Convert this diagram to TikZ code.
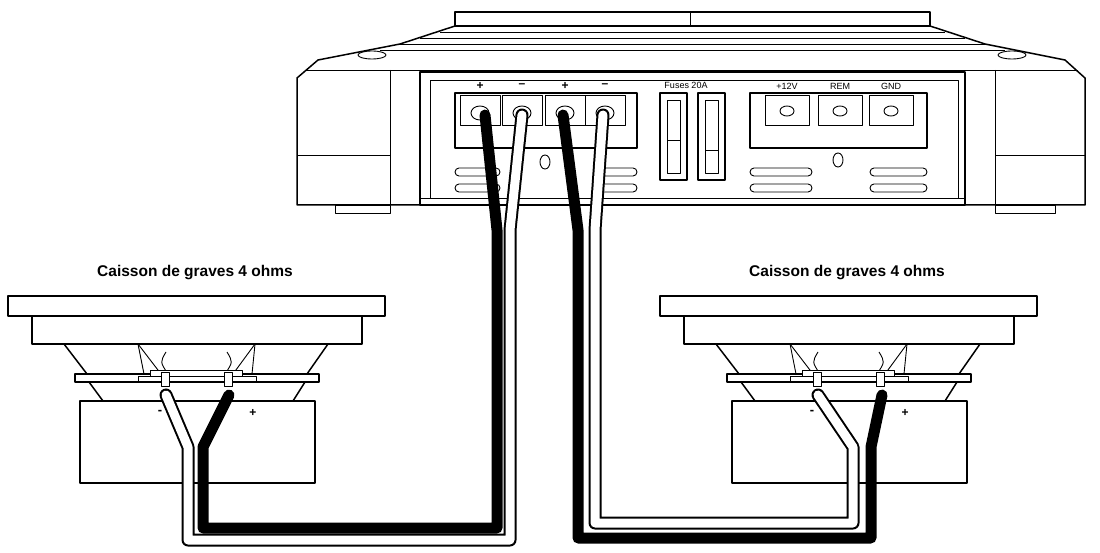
\documentclass[tikz,border=0pt]{standalone}
\usepackage{fontspec}
\setmainfont{Liberation Sans}
\begin{document}
\begin{tikzpicture}[x=1pt,y=-1pt,line join=round,
  ln/.style={draw=black,line width=1.5pt},
  thin/.style={draw=black,line width=0.9pt},
  ttl/.style={font=\fontsize{15.5}{18}\selectfont\bfseries},
  small/.style={font=\fontsize{9}{10}\selectfont},
  blk/.style={line width=11pt,draw=black,line cap=round},
  whO/.style={line width=13pt,draw=black,line cap=round},
  whI/.style={line width=9pt,draw=white,line cap=round}]
\useasboundingbox (0,0) rectangle (1100,553);
% ---------- amplifier ----------
\draw[ln,fill=white] (297,205) -- (297,78) -- (318,60) -- (400,44) -- (455,26) -- (930,26) -- (985,44) -- (1065,60) -- (1085,78) -- (1085,205) -- cycle;
\draw[ln] (455,12) rectangle (930,26);
\draw[thin] (690,12) -- (690,26);
\foreach \y/\a/\b in {32/440/945,38/420/965,44/400/985,50/380/1005}
  \draw[thin] (\a,\y) -- (\b,\y);
\draw[thin] (305,70) -- (1078,70);
\draw[thin] (390,70) -- (390,205);
\draw[thin] (995,70) -- (995,205);
\draw[thin] (297,155) -- (390,155);
\draw[thin] (995,155) -- (1085,155);
\draw[thin] (372,55) ellipse (14 and 4);
\draw[thin] (1012,55) ellipse (14 and 4);
\draw[ln] (420,72) rectangle (965,205);
\draw[thin] (430,80) rectangle (958,198);
\draw[thin] (420,198) -- (965,198);
\draw[thin] (335,205) rectangle (390,213);
\draw[thin] (995,205) rectangle (1055,213);
% terminals
\draw[ln] (455,93) rectangle (637,148);
\foreach \x/\s in {480/+,522/–,565/+,605/–}{
  \draw[thin] (\x-20,95) rectangle (\x+20,125);
  \draw[thin] (\x,113) ellipse (9 and 7);
  \node[font=\fontsize{12}{12}\selectfont\bfseries] at (\x,86) {\s};}
\node[small] (fus) at (686,85) {Fuses 20A};
\draw[ln] (660,93) rectangle (687,180);
\draw[ln] (698,93) rectangle (725,180);
\draw[thin] (667,100) rectangle (680,173);
\draw[thin] (705,100) rectangle (718,173);
\draw[thin] (667,140) -- (680,140);
\draw[thin] (705,150) -- (718,150);
\draw[ln] (750,93) rectangle (927,148);
\foreach \x/\l in {787/+12V,840/REM,891/GND}{
  \draw[thin] (\x-22,95) rectangle (\x+22,125);
  \draw[thin] (\x,111) ellipse (7 and 5);
  \node[small] at (\x,86) {\l};}
\draw[thin] (545,162) ellipse (5 and 7);
\draw[thin] (838,160) ellipse (5 and 7);
\foreach \a/\b in {455/500,600/637,750/812,870/927}{
  \draw[thin,rounded corners=4pt] (\a,168) rectangle (\b,176);
  \draw[thin,rounded corners=4pt] (\a,184) rectangle (\b,192);}
% ---------- speakers ----------
\foreach \dx in {0,652}{
\begin{scope}[xshift=\dx]
  \draw[ln] (8,296) rectangle (385,316);
  \draw[ln] (32,316) rectangle (362,344);
  \draw[ln] (64,344) -- (87,374);
  \draw[ln] (328,344) -- (307,374);
  \draw[ln] (89,382) -- (103,401);
  \draw[ln] (305,382) -- (293,401);
  \draw[thin] (138,344) -- (161,374);
  \draw[thin] (138,344) -- (144,374);
  \draw[thin] (255,344) -- (233,374);
  \draw[thin] (255,344) -- (252,374);
  \draw[thin] (168,374) .. controls (160,362) .. (166,352);
  \draw[thin] (225,374) .. controls (233,362) .. (227,352);
  \draw[ln,fill=white] (75,374) rectangle (319,382);
  \draw[thin,fill=white] (150,370) rectangle (242,376);
  \draw[thin] (138,376) rectangle (256,382);
  \draw[thin,fill=white] (161,372) rectangle (169,386);
  \draw[thin,fill=white] (224,372) rectangle (232,386);
  \draw[ln] (80,401) rectangle (315,483);
  \node[font=\bfseries\fontsize{13}{14}\selectfont] at (160,412) {-};
  \node[font=\bfseries\fontsize{12}{14}\selectfont] at (253,413) {+};
\end{scope}}
\node[ttl] (tl) at (195,273) {Caisson de graves 4 ohms};
\node[ttl] (tr) at (847,273) {Caisson de graves 4 ohms};
% ---------- cables ----------
\draw[whO] (522,115) -- (510,230) -- (510,540) -- (188,540) -- (188,447) -- (166,395);
\draw[whI] (522,115) -- (510,230) -- (510,540) -- (188,540) -- (188,447) -- (166,395);
\draw[whO] (603,115) -- (595,230) -- (595,523) -- (853,523) -- (853,447) -- (818,395);
\draw[whI] (603,115) -- (595,230) -- (595,523) -- (853,523) -- (853,447) -- (818,395);
\draw[blk] (485,115) -- (497,230) -- (497,528) -- (203,528) -- (203,447) -- (229,395);
\draw[blk] (563,115) -- (578,230) -- (578,538) -- (871,538) -- (871,447) -- (882,395);
\end{tikzpicture}
\end{document}
